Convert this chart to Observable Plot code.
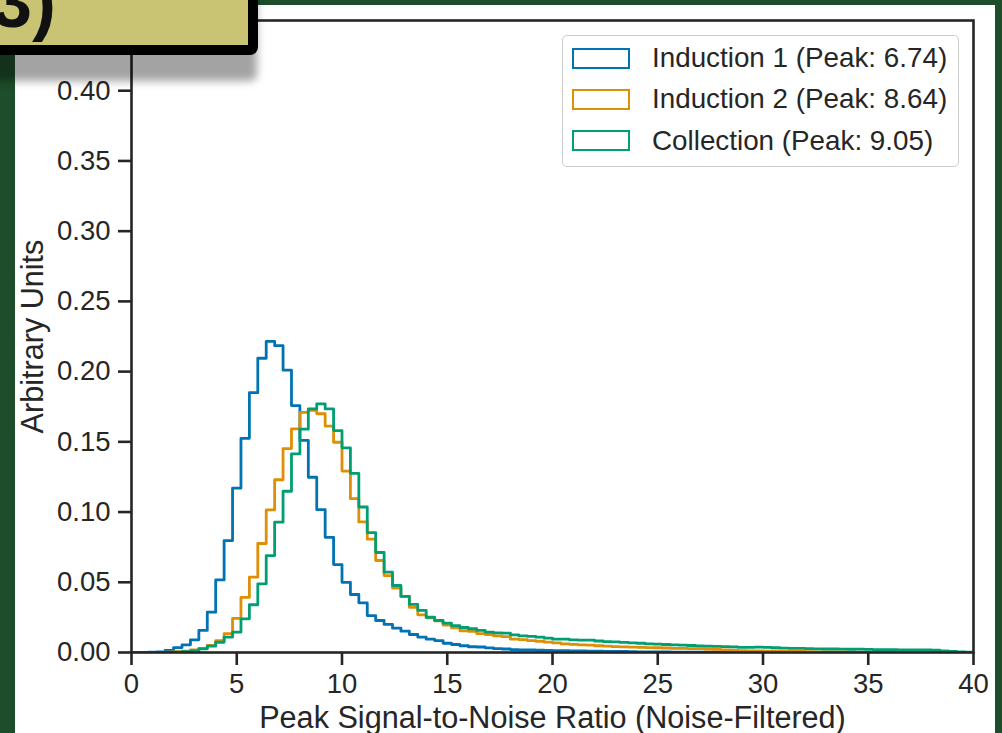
<!DOCTYPE html>
<html>
<head>
<meta charset="utf-8">
<script src="https://cdn.jsdelivr.net/npm/d3@7"></script>
<script src="https://cdn.jsdelivr.net/npm/@observablehq/plot@0.6"></script>
<style>
  html, body { margin: 0; padding: 0; }
  body { width: 1002px; height: 733px; background: #1e4d2b; position: relative; overflow: hidden; font-family: "Liberation Sans", Arial, sans-serif; }
  #panel { position: absolute; left: 15px; top: 5px; width: 980px; height: 740px; background: #ffffff; }
  #chart { position: absolute; left: 0; top: 0; }
  #legend { position: absolute; left: 562px; top: 35px; width: 397px; height: 132px; box-sizing: border-box;
    border: 1.5px solid #cccccc; border-radius: 5px; background: rgba(255,255,255,0.85); }
  .sw { position: absolute; left: 9px; width: 58px; height: 21px; box-sizing: border-box; border: 2.8px solid; background: #fff; }
  .lt { position: absolute; left: 89px; font-size: 27.8px; color: #262626; white-space: nowrap; line-height: 30px; }
  #tag { position: absolute; left: -50px; top: -50px; width: 308px; height: 105px; box-sizing: border-box;
    background: #c8c473; border: 10px solid #000; border-radius: 8px; box-shadow: 0 27px 8px -1px rgba(0,0,0,0.36); }
  #tagtext { position: absolute; right: 946px; top: -34px; font-size: 72px; font-weight: bold; color: #111; line-height: 72px; }
</style>
</head>
<body>
<div id="panel"></div>
<div id="chart"></div>
<div id="legend"></div>
<div id="tag"></div>
<div id="tagtext">(3)</div>
<script>
// ---- Data (histogram bins, width 0.4, starting at 0) ----
const binWidth = 0.4;
const seriesNames = ["Induction 1 (Peak: 6.74)", "Induction 2 (Peak: 8.64)", "Collection (Peak: 9.05)"];
const seriesColors = ["#0173b2", "#de8f05", "#029e73"];

const induction1 = [
  0, 0, 0.0002, 0.0004, 0.0015, 0.0035, 0.0055, 0.009, 0.0157, 0.0287,
  0.0517, 0.0797, 0.117, 0.1525, 0.185, 0.2095, 0.2216, 0.2185, 0.201, 0.1758,
  0.151, 0.1248, 0.1018, 0.082, 0.0626, 0.050, 0.0413, 0.0354, 0.0263, 0.0228,
  0.020, 0.0173, 0.0152, 0.0128, 0.0109, 0.0095, 0.0085, 0.0066, 0.0057, 0.0048,
  0.0041, 0.0039, 0.0033, 0.0027, 0.0025, 0.0021, 0.0019, 0.0018, 0.0016, 0.0015,
  0.0014, 0.0013, 0.0012, 0.0011, 0.0010, 0.0009, 0.0008, 0.0007, 0.0007, 0.0006,
  0.0005, 0.0005, 0.0004, 0.0004, 0.0003, 0.0003, 0.0003, 0.0002, 0.0002, 0.0002,
  0.0002, 0.0001, 0.0001, 0.0001, 0.0001, 0.0001, 0.0001, 0.0001, 0.0001, 0.0001,
  0, 0, 0, 0, 0, 0, 0, 0, 0, 0,
  0, 0, 0, 0, 0, 0, 0, 0, 0, 0
];
const induction2 = [
  0, 0, 0, 0.0001, 0.0003, 0.0006, 0.001, 0.0018, 0.003, 0.005,
  0.0085, 0.0135, 0.0243, 0.0392, 0.0536, 0.0776, 0.1015, 0.123, 0.1452, 0.1592,
  0.171, 0.1725, 0.170, 0.1612, 0.1497, 0.1292, 0.1095, 0.093, 0.0807, 0.0655,
  0.0548, 0.0458, 0.0399, 0.0322, 0.0268, 0.0247, 0.0225, 0.0195, 0.0176, 0.0155,
  0.0150, 0.0135, 0.0128, 0.0118, 0.0113, 0.0095, 0.0092, 0.0085, 0.008, 0.0074,
  0.0068, 0.0062, 0.0058, 0.0055, 0.0052, 0.0048, 0.0045, 0.0042, 0.0040, 0.0038,
  0.0037, 0.0035, 0.0034, 0.0032, 0.0030, 0.0029, 0.0028, 0.0027, 0.0025, 0.0022,
  0.0019, 0.0016, 0.0014, 0.0012, 0.0011, 0.0010, 0.0009, 0.0008, 0.0007, 0.0007,
  0.0006, 0.0005, 0.0005, 0.0004, 0.0004, 0.0003, 0.0003, 0.0003, 0.0002, 0.0002,
  0.0002, 0.0001, 0.0001, 0.0001, 0.0001, 0.0001, 0.0001, 0, 0, 0
];
const collection = [
  0, 0, 0, 0, 0.0001, 0.0003, 0.0006, 0.0012, 0.0026, 0.0045,
  0.0073, 0.0109, 0.0145, 0.024, 0.034, 0.0489, 0.069, 0.0928, 0.1148, 0.1414,
  0.159, 0.1734, 0.177, 0.1734, 0.158, 0.1457, 0.1276, 0.1036, 0.0854, 0.0712,
  0.0572, 0.0477, 0.0399, 0.0342, 0.030, 0.0251, 0.0228, 0.0209, 0.0192, 0.0178,
  0.0169, 0.0157, 0.0145, 0.014, 0.0138, 0.0126, 0.0118, 0.0115, 0.0109, 0.0102,
  0.0095, 0.0095, 0.009, 0.0088, 0.0088, 0.0082, 0.0078, 0.0076, 0.0072, 0.0069,
  0.0066, 0.0062, 0.006, 0.0057, 0.0055, 0.0052, 0.005, 0.0047, 0.0045, 0.0044,
  0.0042, 0.004, 0.0037, 0.0036, 0.0038, 0.0037, 0.0034, 0.0031, 0.003, 0.0029,
  0.0027, 0.0026, 0.0025, 0.0025, 0.0024, 0.0023, 0.0024, 0.0022, 0.0021, 0.0020,
  0.0020, 0.0019, 0.0018, 0.0019, 0.0018, 0.0016, 0.0012, 0.0008, 0.0005, 0.0003
];
const xTicks = [0, 5, 10, 15, 20, 25, 30, 35, 40];
const yTicks = [0, 0.05, 0.10, 0.15, 0.20, 0.25, 0.30, 0.35, 0.40];
const xLabel = "Peak Signal-to-Noise Ratio (Noise-Filtered)";
const yLabel = "Arbitrary Units";

// ---- Build step outlines ----
const allSeries = [induction1, induction2, collection];
const rows = [];
allSeries.forEach((vals, s) => {
  const name = seriesNames[s];
  vals.forEach((v, k) => rows.push({series: name, x: k * binWidth, y: v}));
  rows.push({series: name, x: vals.length * binWidth, y: vals[vals.length - 1]});
  rows.push({series: name, x: vals.length * binWidth, y: 0});
});

const ink = "#262626";
const chart = Plot.plot({
  width: 1002,
  height: 733,
  marginLeft: 131,
  marginRight: 29,
  marginTop: 20,
  marginBottom: 81,
  style: {background: "transparent", fontFamily: "'Liberation Sans', Arial, sans-serif", fontSize: "27.5px", color: ink},
  x: {domain: [0, 40]},
  y: {domain: [0, 0.45]},
  color: {domain: seriesNames, range: seriesColors},
  marks: [
    Plot.lineY(rows, {x: "x", y: "y", z: "series", stroke: "series", curve: "step-after", strokeWidth: 2.8, clip: true}),
    Plot.frame({stroke: ink, strokeWidth: 2.6}),
    Plot.axisX({ticks: xTicks, tickSize: 13, tickPadding: 8, strokeWidth: 2.6, stroke: ink, fill: ink, fontSize: 27.5, label: null, tickFormat: d => String(d)}),
    Plot.axisY({ticks: yTicks, tickSize: 13, tickPadding: 8, strokeWidth: 2.6, stroke: ink, fill: ink, fontSize: 27.5, label: null, tickFormat: d3.format(".2f")}),
    Plot.text([xLabel], {frameAnchor: "bottom", dy: 66, fontSize: 30.6, fill: ink, lineAnchor: "middle", textAnchor: "middle"}),
    Plot.text([yLabel], {frameAnchor: "left", dx: -98, rotate: -90, fontSize: 30.6, fill: ink, lineAnchor: "middle", textAnchor: "middle"})
  ]
});
document.getElementById("chart").appendChild(chart);

// ---- Legend ----
const legend = document.getElementById("legend");
seriesNames.forEach((name, i) => {
  const cy = 22 + i * 41.3;
  const sw = document.createElement("div");
  sw.className = "sw";
  sw.style.top = (cy - 10.5) + "px";
  sw.style.borderColor = seriesColors[i];
  legend.appendChild(sw);
  const t = document.createElement("div");
  t.className = "lt";
  t.style.top = (cy - 15) + "px";
  t.textContent = name;
  legend.appendChild(t);
});
</script>
</body>
</html>
